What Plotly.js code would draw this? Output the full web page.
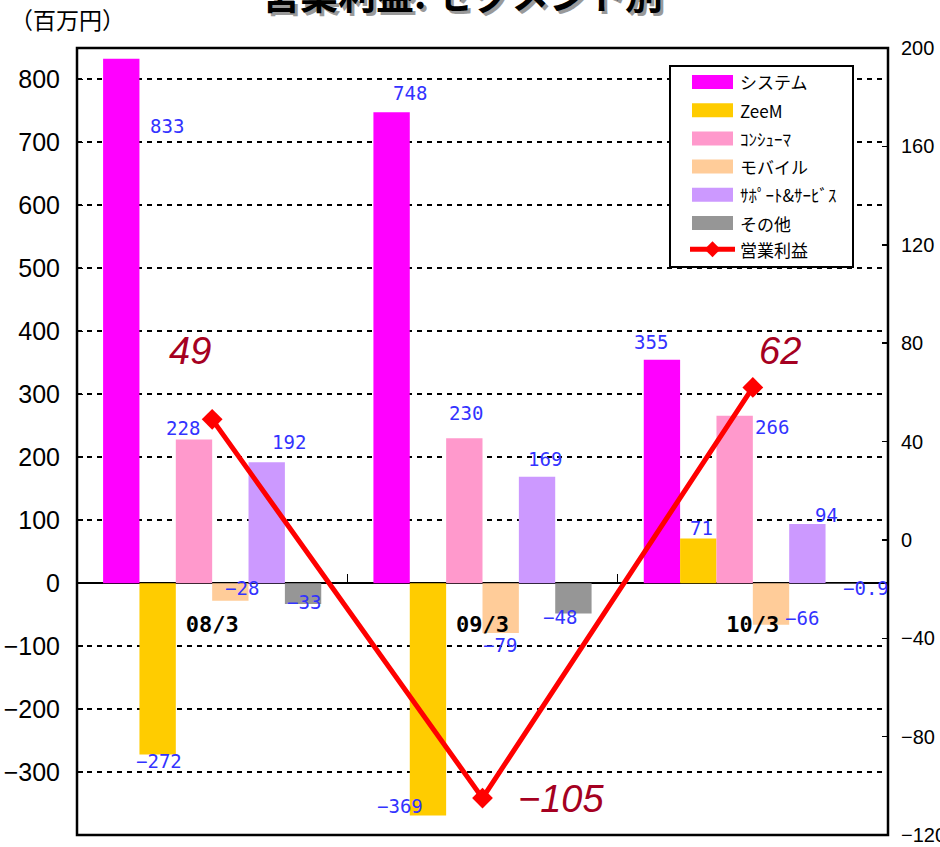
<!DOCTYPE html>
<html>
<head>
<meta charset="utf-8">
<script src="https://cdn.plot.ly/plotly-3.0.1.min.js"></script>
<style>
  html, body { margin: 0; padding: 0; background: #fff; }
  #chart { width: 940px; height: 847px; }
</style>
</head>
<body>
<div id="chart"></div>
<script>
// Fiscal periods (March year-end)
const categories = ['08/3', '09/3', '10/3'];

// Segment operating profit, million yen
const seriesNames = ['システム', 'ZeeM', 'ｺﾝｼｭｰﾏ', 'モバイル', 'ｻﾎﾟｰﾄ&ｻｰﾋﾞｽ', 'その他'];
const system   = [833, 748, 355];
const zeem     = [-272, -369, 71];
const consumer = [228, 230, 266];
const mobile   = [-28, -79, -66];
const support  = [192, 169, 94];
const other    = [-33, -48, -0.9];

// Total operating profit (right axis)
const profitName = '営業利益';
const operatingProfit = [49, -105, 62];

const segmentValues = [system, zeem, consumer, mobile, support, other];
const segmentColors = ['#FF00FF', '#FFCC00', '#FF99CC', '#FFCC99', '#CC99FF', '#969696'];

// Pixel nudges for the value labels, [dx, dy] per period
const labelNudge = [
  [[46, 67], [18, -19], [-11, -18]],
  [[1, 7], [-28, -9], [3, -10]],
  [[-11, -12], [2, -25], [37, 11]],
  [[12, -13], [-1, 12], [31, -7]],
  [[22, -20], [8, -18], [19, -9]],
  [[1, -2], [-13, 4], [22, 4]]
];
const profitNudge = [[-22, -68], [78, 1], [27, -36]];

const W = 940, H = 847;
const M = { l: 77, r: 52, t: 48, b: 12 };
const plotW = W - M.l - M.r, plotH = H - M.t - M.b;
const px = x => (x - M.l) / plotW;
const py = y => (H - M.b - y) / plotH;

const BARGAP = 0.193;
const slot = (1 - BARGAP) / segmentValues.length;

const fmt = v => (v < 0 ? '\u2212' + String(Math.abs(v)) : String(v));

const traces = segmentValues.map((vals, i) => ({
  type: 'bar',
  name: seriesNames[i],
  x: categories,
  y: vals,
  marker: { color: segmentColors[i], line: { width: 0 } },
  hoverinfo: 'x+y+name'
}));

traces.push({
  type: 'scatter',
  mode: 'lines+markers',
  name: profitName,
  x: categories,
  y: operatingProfit,
  yaxis: 'y2',
  line: { color: '#FF0000', width: 5 },
  marker: { symbol: 'diamond', size: 16, color: '#FF0000' },
  cliponaxis: false
});

const annotations = [];
const shapes = [];

// Segment value labels
segmentValues.forEach((vals, i) => {
  vals.forEach((v, j) => {
    annotations.push({
      xref: 'x', yref: 'y',
      x: j + (i - (segmentValues.length - 1) / 2) * slot,
      y: v,
      xshift: labelNudge[i][j][0],
      yshift: -labelNudge[i][j][1],
      text: fmt(v),
      showarrow: false,
      xanchor: 'center', yanchor: 'middle',
      font: { family: 'DejaVu Sans Mono, monospace', size: 19, color: '#3333FF' }
    });
  });
});

// Operating profit labels
operatingProfit.forEach((v, j) => {
  annotations.push({
    xref: 'x', yref: 'y2',
    x: j, y: v,
    xshift: profitNudge[j][0],
    yshift: -profitNudge[j][1],
    text: fmt(v),
    showarrow: false,
    xanchor: 'center', yanchor: 'middle',
    font: { family: 'Liberation Sans, Arial, sans-serif', size: 38, color: '#A50021', style: 'italic' }
  });
});

// Title with drop shadow
const titleText = '営業利益: セグメント別';
annotations.push({
  xref: 'paper', yref: 'paper', x: px(462), y: py(-8),
  xshift: 3, yshift: -3,
  text: '<b>' + titleText + '</b>', showarrow: false,
  xanchor: 'center', yanchor: 'middle',
  font: { family: 'Noto Sans CJK JP, sans-serif', size: 38, color: '#999999' }
});
annotations.push({
  xref: 'paper', yref: 'paper', x: px(462), y: py(-8),
  text: '<b>' + titleText + '</b>', showarrow: false,
  xanchor: 'center', yanchor: 'middle',
  font: { family: 'Noto Sans CJK JP, sans-serif', size: 38, color: '#000000' }
});

// Unit label
annotations.push({
  xref: 'paper', yref: 'paper', x: px(67), y: py(19),
  text: '（百万円）', showarrow: false,
  xanchor: 'center', yanchor: 'middle',
  font: { family: 'Noto Sans CJK JP, sans-serif', size: 23, color: '#000000' }
});

// Plot frame
shapes.push({
  type: 'rect', xref: 'paper', yref: 'paper', x0: 0, x1: 1, y0: 0, y1: 1,
  line: { color: '#000000', width: 2.5 }, fillcolor: 'rgba(0,0,0,0)', layer: 'above'
});

// Legend box
const LG = { x0: 670, y0: 66, x1: 853, y1: 267, rowTop: 82, rowStep: 28.2, swX0: 692, swX1: 733, swH: 14, textX: 738 };
shapes.push({
  type: 'rect', xref: 'paper', yref: 'paper',
  x0: px(LG.x0), x1: px(LG.x1), y0: py(LG.y1), y1: py(LG.y0),
  line: { color: '#000000', width: 2 }, fillcolor: '#FFFFFF', layer: 'above'
});
const legendFont = { family: 'Noto Sans CJK JP, sans-serif', size: 17, color: '#000000' };
seriesNames.forEach((name, i) => {
  const cy = LG.rowTop + i * LG.rowStep;
  shapes.push({
    type: 'rect', xref: 'paper', yref: 'paper',
    x0: px(LG.swX0), x1: px(LG.swX1), y0: py(cy + LG.swH / 2), y1: py(cy - LG.swH / 2),
    line: { width: 0 }, fillcolor: segmentColors[i], layer: 'above'
  });
  annotations.push({
    xref: 'paper', yref: 'paper', x: px(LG.textX), y: py(cy),
    text: name, showarrow: false, xanchor: 'left', yanchor: 'middle', font: legendFont
  });
});
{
  const cy = LG.rowTop + seriesNames.length * LG.rowStep - 2;
  shapes.push({
    type: 'line', xref: 'paper', yref: 'paper',
    x0: px(LG.swX0 - 2), x1: px(LG.swX1 + 2), y0: py(cy), y1: py(cy),
    line: { color: '#FF0000', width: 5 }, layer: 'above'
  });
  const cx = (LG.swX0 + LG.swX1) / 2, d = 8;
  shapes.push({
    type: 'path', xref: 'paper', yref: 'paper',
    path: `M ${px(cx)} ${py(cy - d)} L ${px(cx + d)} ${py(cy)} L ${px(cx)} ${py(cy + d)} L ${px(cx - d)} ${py(cy)} Z`,
    line: { width: 0 }, fillcolor: '#FF0000', layer: 'above'
  });
  annotations.push({
    xref: 'paper', yref: 'paper', x: px(LG.textX), y: py(cy),
    text: profitName, showarrow: false, xanchor: 'left', yanchor: 'middle', font: legendFont
  });
}

const yRange = [-400, 850];

const layout = {
  width: W, height: H,
  margin: M,
  paper_bgcolor: '#FFFFFF',
  plot_bgcolor: '#FFFFFF',
  showlegend: false,
  barmode: 'group',
  bargap: BARGAP,
  bargroupgap: 0,
  xaxis: {
    type: 'category',
    range: [-0.5, 2.5],
    anchor: 'free',
    position: (0 - yRange[0]) / (yRange[1] - yRange[0]),
    showline: false,
    showgrid: false,
    zeroline: false,
    ticks: 'inside',
    tickson: 'boundaries',
    ticklen: 9,
    tickwidth: 1.5,
    tickcolor: '#000000',
    ticklabelstandoff: 26,
    tickfont: { family: 'DejaVu Sans Mono, monospace', size: 22, color: '#000000', weight: 'bold' }
  },
  yaxis: {
    range: yRange,
    tick0: 0, dtick: 100,
    showgrid: true,
    gridcolor: '#000000',
    gridwidth: 2,
    griddash: '5px,5px',
    zeroline: true,
    zerolinecolor: '#000000',
    zerolinewidth: 2,
    showline: false,
    ticks: 'inside',
    ticklen: 6,
    tickwidth: 1.5,
    tickcolor: '#000000',
    ticklabelstandoff: 16,
    tickfont: { family: 'Liberation Sans Narrow, Arial Narrow, sans-serif', size: 25, color: '#000000' }
  },
  yaxis2: {
    overlaying: 'y',
    side: 'right',
    range: [-120, 200],
    tick0: 0, dtick: 40,
    showgrid: false,
    zeroline: false,
    showline: false,
    ticks: 'inside',
    ticklen: 6,
    tickwidth: 1.5,
    tickcolor: '#000000',
    ticklabelstandoff: 12,
    tickfont: { family: 'Liberation Sans Narrow, Arial Narrow, sans-serif', size: 20, color: '#000000' }
  },
  annotations: annotations,
  shapes: shapes
};

Plotly.newPlot('chart', traces, layout, { displayModeBar: false, staticPlot: true });
</script>
</body>
</html>
